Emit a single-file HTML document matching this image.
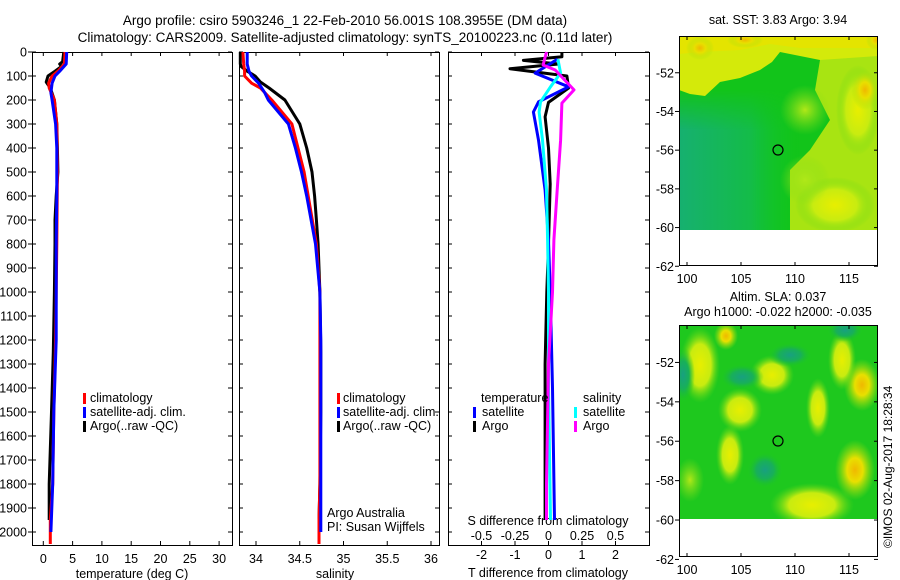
<!DOCTYPE html>
<html><head><meta charset="utf-8">
<style>
html,body{margin:0;padding:0;background:#fff;}
svg{display:block;font-family:"Liberation Sans",sans-serif;}
text{font-size:12.5px;fill:#000;}
</style></head>
<body>
<svg id="chart" width="900" height="580" viewBox="0 0 900 580" xmlns="http://www.w3.org/2000/svg">
<defs>
<clipPath id="clip1"><rect x="679" y="36" width="199" height="194"/></clipPath>
<clipPath id="clip2"><rect x="679" y="325" width="199" height="194"/></clipPath>
<linearGradient id="tealg" x1="0" y1="0" x2="1" y2="0">
<stop offset="0" stop-color="#16b070"/><stop offset="0.6" stop-color="#14bc48"/><stop offset="1" stop-color="#10c820" stop-opacity="0"/>
</linearGradient>
<linearGradient id="tealv" x1="0" y1="0" x2="0" y2="1">
<stop offset="0" stop-color="#ffffff" stop-opacity="0"/><stop offset="1" stop-color="#ffffff" stop-opacity="1"/>
</linearGradient>
<mask id="tmask"><rect x="679" y="90" width="120" height="40" fill="url(#tealv)"/><rect x="679" y="130" width="120" height="100" fill="#fff"/></mask>
<radialGradient id="gy"><stop offset="0" stop-color="#e8ee00"/><stop offset="0.55" stop-color="#c8ec10"/><stop offset="1" stop-color="#60d818" stop-opacity="0"/></radialGradient>
<radialGradient id="go"><stop offset="0" stop-color="#f0b800"/><stop offset="0.4" stop-color="#e8e000"/><stop offset="1" stop-color="#a0e010" stop-opacity="0"/></radialGradient>
<radialGradient id="gt"><stop offset="0" stop-color="#18a080"/><stop offset="0.5" stop-color="#18b058"/><stop offset="1" stop-color="#1ec81e" stop-opacity="0"/></radialGradient>
<radialGradient id="gl"><stop offset="0" stop-color="#b0e818"/><stop offset="1" stop-color="#80dc18" stop-opacity="0"/></radialGradient>
</defs>
<text x="345" y="25" text-anchor="middle" style="font-size:13.5px">Argo profile: csiro 5903246_1 22-Feb-2010 56.001S 108.3955E (DM data)</text>
<text x="345" y="42" text-anchor="middle" style="font-size:13.5px">Climatology: CARS2009. Satellite-adjusted climatology: synTS_20100223.nc (0.11d later)</text>

<!-- SST map -->
<text x="778" y="24" text-anchor="middle">sat. SST: 3.83 Argo: 3.94</text>
<g clip-path="url(#clip1)">
<rect x="679" y="36" width="199" height="194" fill="#12c41a"/>
<rect x="679" y="90" width="120" height="140" fill="url(#tealg)" mask="url(#tmask)"/>
<polygon points="679,36 878,36 878,62 830,62 800,56 780,52 772,62 760,70 740,78 720,82 705,96 690,94 679,90" fill="#d4ea0a"/>
<polygon points="679,36 878,36 878,48 800,48 770,44 740,50 700,52 679,54" fill="#e4e400"/>
<ellipse cx="700" cy="48" rx="14" ry="12" fill="url(#go)"/>
<ellipse cx="745" cy="40" rx="18" ry="8" fill="url(#go)"/>
<ellipse cx="876" cy="40" rx="10" ry="10" fill="url(#go)"/>
<polygon points="820,60 878,56 878,230 790,230 790,170 810,150 830,120 815,90" fill="#a8e412"/>
<ellipse cx="858" cy="110" rx="22" ry="45" fill="url(#gy)"/>
<ellipse cx="865" cy="90" rx="14" ry="20" fill="url(#go)"/>
<ellipse cx="835" cy="205" rx="40" ry="28" fill="url(#gy)"/>
<ellipse cx="805" cy="110" rx="25" ry="25" fill="url(#gl)"/>
<ellipse cx="805" cy="180" rx="25" ry="25" fill="url(#gl)"/>
</g>
<circle cx="778" cy="150" r="5" fill="none" stroke="#000" stroke-width="1.2"/>
<rect x="679.5" y="36.5" width="198" height="229" fill="none" stroke="#000"/>

<!-- SLA map -->
<text x="778" y="301" text-anchor="middle">Altim. SLA: 0.037</text>
<text x="778" y="316" text-anchor="middle">Argo h1000: -0.022 h2000: -0.035</text>
<g clip-path="url(#clip2)">
<rect x="679" y="325" width="199" height="194" fill="#1ec81e"/>
<ellipse cx="700" cy="365" rx="20" ry="38" fill="url(#gy)"/>
<ellipse cx="726" cy="336" rx="12" ry="14" fill="url(#go)"/>
<ellipse cx="740" cy="410" rx="22" ry="22" fill="url(#gy)"/>
<ellipse cx="730" cy="455" rx="14" ry="30" fill="url(#gy)"/>
<ellipse cx="772" cy="375" rx="22" ry="20" fill="url(#gy)"/>
<ellipse cx="818" cy="408" rx="12" ry="30" fill="url(#gy)"/>
<ellipse cx="812" cy="505" rx="42" ry="22" fill="url(#gy)"/>
<ellipse cx="855" cy="470" rx="20" ry="30" fill="url(#go)"/>
<ellipse cx="862" cy="385" rx="18" ry="26" fill="url(#go)"/>
<ellipse cx="842" cy="360" rx="14" ry="30" fill="url(#gy)"/>
<ellipse cx="690" cy="480" rx="14" ry="22" fill="url(#gl)"/>
<ellipse cx="683" cy="375" rx="12" ry="28" fill="url(#gt)"/>
<ellipse cx="742" cy="377" rx="22" ry="13" fill="url(#gt)"/>
<ellipse cx="845" cy="330" rx="18" ry="12" fill="url(#gt)"/>
<ellipse cx="790" cy="355" rx="22" ry="12" fill="url(#gt)"/>
<ellipse cx="765" cy="470" rx="18" ry="18" fill="url(#gt)"/>
</g>
<circle cx="778" cy="441" r="5" fill="none" stroke="#000" stroke-width="1.2"/>
<rect x="679.5" y="325.5" width="198" height="231" fill="none" stroke="#000"/>
<text transform="translate(892,548) rotate(-90)" style="font-size:12px">©IMOS 02-Aug-2017 18:28:34</text>

<g id="plots"></g>
</svg>
<script>
// ---- profile data (depth in m) ----
const climDepth = [0,50,80,100,130,150,200,300,500,800,1000,1200,1500,1800,1950,2050];
const climTemp  = [3.7,3.6,2.5,1.5,0.9,1.0,1.9,2.3,2.4,2.3,2.2,2.1,1.8,1.6,1.2,1.2];
const climSal   = [33.85,33.86,33.87,33.87,33.95,34.05,34.18,34.41,34.55,34.69,34.73,34.73,34.73,34.73,34.72,34.72];
const satDepth  = [0,50,80,100,130,170,200,300,400,500,600,800,1000,1200,1500,1800,2000];
const satTemp   = [4.0,3.9,2.8,2.0,1.5,1.3,1.5,2.1,2.3,2.3,2.3,2.2,2.2,2.2,1.8,1.6,1.3];
const satSal    = [33.9,33.9,33.92,33.95,34.03,34.1,34.14,34.37,34.45,34.52,34.58,34.68,34.73,34.74,34.74,34.74,34.74];
const argoDepth = [0,40,50,60,80,100,125,150,200,300,400,500,600,700,800,1000,1250,1500,1800,1950];
const argoTemp  = [3.5,3.3,2.8,3.1,2.0,0.8,0.5,1.2,1.9,2.3,2.4,2.5,2.2,2.0,2.0,1.9,1.7,1.4,1.0,1.0];
const argoSal   = [33.82,33.82,33.82,33.83,33.9,33.99,34.05,34.15,34.33,34.5,34.58,34.64,34.67,34.69,34.71,34.73,34.74,34.74,34.73,34.72];
// ---- difference data ----
const dTDepth   = [0,20,35,50,70,100,150,210,270,400,550,800,1000,1300,1600,1950];
const argoTDiff = [0.4,0.4,-0.75,0.3,-1.15,0.55,0.6,0.0,-0.1,0.0,0.05,0.0,-0.05,-0.1,-0.1,-0.1];
const satDDepth = [30,88,145,208,250,367,575,783,1000,1400,1950];
const satTDiff  = [0.27,-0.4,0.6,-0.3,-0.45,-0.3,-0.1,0.0,0.05,0.12,0.18];
const satSDiff  = [0.07,0.09,0.015,-0.06,-0.07,-0.045,-0.015,-0.007,0.0,0.0,0.015];
const argoSDepth= [0,54,75,158,213,367,575,783,1000,1300,1800,1950];
const argoSDiff = [-0.015,-0.04,0.05,0.19,0.1,0.09,0.065,0.04,0.03,0.0,-0.015,-0.015];
// ---- ticks ----
const depthTicks = [0,100,200,300,400,500,600,700,800,900,1000,1100,1200,1300,1400,1500,1600,1700,1800,1900,2000];
const tempTicks = [0,5,10,15,20,25,30];
const salTicks = [34,34.5,35,35.5,36];
const salTickLabels = ["34","34.5","35","35.5","36"];
const tDiffTicks = [-2,-1,0,1,2];
const sDiffTicks = [-0.5,-0.25,0,0.25,0.5];

const NS='http://www.w3.org/2000/svg';
const root=document.getElementById('plots');
function mk(tag,attrs,parent){const e=document.createElementNS(NS,tag);for(const k in attrs)e.setAttribute(k,attrs[k]);(parent||root).appendChild(e);return e;}
const TOP=52, BOT=545;
const yD = d => TOP + d*0.24;
const P1={l:32,r:232}, P2={l:239,r:439}, P3={l:448,r:649};
const xT = v => 43.3 + v*5.86;
const xS = v => 256 + (v-34)*87.5;
const xdT = v => 548.5 + v*33.5;
const xdS = v => 548.5 + v*134;

function line(xs,ds,fx,color,name,w){
  const pts=xs.map((v,i)=>fx(v).toFixed(1)+','+yD(ds[i]).toFixed(1)).join(' ');
  const p=mk('polyline',{points:pts,fill:'none',stroke:color,'stroke-width':w||3,'stroke-linejoin':'round'});
  
  
}
function frame(P,name,topTicks,fx){
  const r=mk('rect',{x:P.l+0.5,y:TOP+0.5,width:P.r-P.l,height:BOT-TOP,fill:'none',stroke:'#000'});
  
  
  depthTicks.forEach(d=>{
    mk('line',{x1:P.l,x2:P.l+4,y1:yD(d),y2:yD(d),stroke:'#000'});
    mk('line',{x1:P.r-4,x2:P.r,y1:yD(d),y2:yD(d),stroke:'#000'});
  });
  topTicks.forEach(v=>{
    mk('line',{x1:fx(v),x2:fx(v),y1:TOP,y2:TOP+4,stroke:'#000'});
    mk('line',{x1:fx(v),x2:fx(v),y1:BOT-4,y2:BOT,stroke:'#000'});
  });
}
function txt(x,y,s,name,anchor){
  const t=mk('text',{x:x,y:y,'text-anchor':anchor||'start'});t.textContent=s;
  
  
  return t;
}
function legMark(x,y,color){
  const r=mk('rect',{x:x,y:y-9,width:3,height:11,fill:color});
  
  
}

// panel 1
frame(P1,'temperature-panel',tempTicks,xT);
depthTicks.forEach(d=>{mk('line',{x1:28,x2:32,y1:yD(d),y2:yD(d),stroke:'#000'});txt(27,yD(d)+4.5,String(d),'depth-tick-label','end');});
tempTicks.forEach(v=>txt(xT(v),563,String(v),'temp-tick-label','middle'));
txt(132,578,'temperature (deg C)','temperature-axis-title','middle');
line(argoTemp,argoDepth,xT,'#000','argo-temp-line');
line(climTemp,climDepth,xT,'#f00','clim-temp-line');
line(satTemp,satDepth,xT,'#00f','sat-temp-line');
legMark(83,402,'#f00');txt(90,402,'climatology','legend-climatology');
legMark(83,416,'#00f');txt(90,416,'satellite-adj. clim.','legend-satellite-adj');
legMark(83,430,'#000');txt(90,430,'Argo(..raw -QC)','legend-argo');

// panel 2
frame(P2,'salinity-panel',salTicks,xS);
salTicks.forEach((v,i)=>txt(xS(v),563,salTickLabels[i],'sal-tick-label','middle'));
txt(335,578,'salinity','salinity-axis-title','middle');
line(argoSal,argoDepth,xS,'#000','argo-sal-line');
line(climSal,climDepth,xS,'#f00','clim-sal-line');
line(satSal,satDepth,xS,'#00f','sat-sal-line');
legMark(337,402,'#f00');txt(343,402,'climatology','legend-climatology-2');
legMark(337,416,'#00f');txt(343,416,'satellite-adj. clim.','legend-satellite-adj-2');
legMark(337,430,'#000');txt(343,430,'Argo(..raw -QC)','legend-argo-2');
txt(327,517,'Argo Australia','credit-line-1');
txt(327,531,'PI: Susan Wijffels','credit-line-2');

// panel 3
frame(P3,'difference-panel',tDiffTicks,xdT);
txt(548,525,'S difference from climatology','s-diff-axis-title','middle');
sDiffTicks.forEach(v=>txt(xdS(v),540,String(v),'s-diff-tick-label','middle'));
tDiffTicks.forEach(v=>txt(xdT(v),559,String(v),'t-diff-tick-label','middle'));
txt(548,577,'T difference from climatology','t-diff-axis-title','middle');
line(argoTDiff,dTDepth,xdT,'#000','argo-t-diff-line');
line(satTDiff,satDDepth,xdT,'#00f','sat-t-diff-line');
line(satSDiff,satDDepth,xdS,'#0ff','sat-s-diff-line');
line(argoSDiff,argoSDepth,xdS,'#f0f','argo-s-diff-line');
txt(481,402,'temperature','legend-temperature-heading');
legMark(473,416,'#00f');txt(482,416,'satellite','legend-t-satellite');
legMark(473,430,'#000');txt(482,430,'Argo','legend-t-argo');
txt(583,402,'salinity','legend-salinity-heading');
legMark(574,416,'#0ff');txt(583,416,'satellite','legend-s-satellite');
legMark(574,430,'#f0f');txt(583,430,'Argo','legend-s-argo');

// map axes
const latTicks=[-52,-54,-56,-58,-60,-62];
const lonTicks=[100,105,110,115];
const latY1 = v => 36 + (-50.1 - v)*19.35;
const latY2 = v => 325 + (-50.1 - v)*19.7;
const lonX = v => 687 + (v-100)*10.8;
latTicks.forEach(v=>{
  [[latY1,'sst'],[latY2,'sla']].forEach(([f,n])=>{
    const y=f(v);
    mk('line',{x1:675,x2:679,y1:y,y2:y,stroke:'#000'});
    mk('line',{x1:878,x2:874,y1:y,y2:y,stroke:'#000'});
    txt(674,y+4.5,String(v),n+'-lat-tick-label','end');
  });
});
lonTicks.forEach(v=>{
  mk('line',{x1:lonX(v),x2:lonX(v),y1:266,y2:262,stroke:'#000'});
  mk('line',{x1:lonX(v),x2:lonX(v),y1:36,y2:40,stroke:'#000'});
  mk('line',{x1:lonX(v),x2:lonX(v),y1:557,y2:553,stroke:'#000'});
  mk('line',{x1:lonX(v),x2:lonX(v),y1:325,y2:329,stroke:'#000'});
  txt(lonX(v),283,String(v),'sst-lon-tick-label','middle');
  txt(lonX(v),574,String(v),'sla-lon-tick-label','middle');
});
</script>
</body></html>
